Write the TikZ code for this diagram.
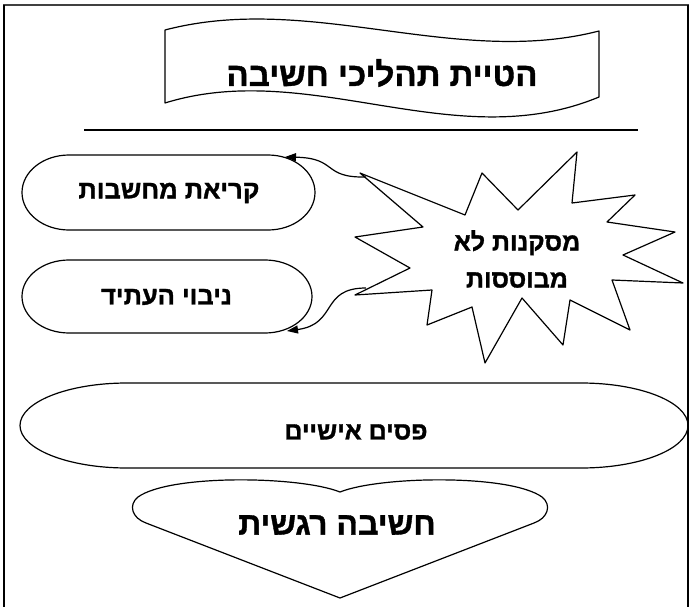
\documentclass[tikz,border=0pt]{standalone}
\usepackage{fontspec}
\newfontfamily\heb[Script=Hebrew,FakeBold=1.2]{Liberation Sans Bold}
\TeXXeTstate=1
\usetikzlibrary{arrows.meta}
\begin{document}
\begin{tikzpicture}[x=1pt,y=-1pt,
  shp/.style={draw=black,line width=1.2pt,line join=round},
  lbl/.style={inner sep=0pt,align=center},
  conn/.style={draw=black,line width=1.2pt,-{Triangle[length=11pt,width=8pt]}}]
\useasboundingbox (0,0) rectangle (690,607);
% frame
\draw[line width=2pt,black!75] (3,5.5) -- (689,5.5);
\draw[line width=2pt] (4.3,5) -- (4.3,607);
\draw[line width=2pt] (688,5) -- (688,607);
% banner
\draw[shp] (165,30) .. controls (310,-8) and (455,68) .. (599,31)
  -- (599,97) .. controls (455,157) and (310,58) .. (165,103) -- cycle;
\node[lbl,font=\heb\fontsize{33}{38}\selectfont] (title) at (382,73) {\beginR הטיית תהליכי חשיבה\endR};
% rule
\draw[line width=1.5pt] (84,130) -- (638,130);
% boxes
\draw[shp] (69,155) -- (268,155) arc[start angle=-90,end angle=90,x radius=47,y radius=37.5]
  -- (69,230) arc[start angle=90,end angle=270,x radius=47,y radius=37.5] -- cycle;
\node[lbl,font=\heb\fontsize{25.5}{30}\selectfont] (b1) at (169,193) {\beginR קריאת מחשבות\endR};
\draw[shp] (69,260) -- (265,260) arc[start angle=-90,end angle=90,x radius=47,y radius=36.5]
  -- (69,333) arc[start angle=90,end angle=270,x radius=47,y radius=36.5] -- cycle;
\node[lbl,font=\heb\fontsize{25.5}{30}\selectfont] (b2) at (166.5,297) {\beginR ניבוי העתיד\endR};
% star
\draw[shp] (360,173) -- (465,215) -- (482,173) -- (518,210) -- (577,152) -- (572,203)
  -- (635,195) -- (607,222) -- (675,232) -- (623,255) -- (683,283) -- (612,280)
  -- (630,330) -- (570,300) -- (563,345) -- (522,298) -- (485,363) -- (472,307)
  -- (427,325) -- (432,290) -- (355,295) -- (410,268) -- (355,237) -- (423,227) -- cycle;
\node[lbl,font=\heb\fontsize{25}{37}\selectfont] (star) at (517,259) {\beginR מסקנות לא\endR\\\beginR מבוססות\endR};
\coordinate (s1) at (366,177);
\coordinate (s2) at (366,288);
\coordinate (a1) at (285,157);
\coordinate (a2) at (287,331);
\draw[conn] (s1) .. controls (322,178) and (338,158) .. (a1);
\draw[conn] (s2) .. controls (320,288) and (338,324) .. (a2);
% ellipse
\draw[shp] (127,383) -- (581,383) arc[start angle=-90,end angle=90,x radius=107,y radius=42.5]
  -- (127,468) arc[start angle=90,end angle=270,x radius=107,y radius=42.5] -- cycle;
\node[lbl,font=\heb\fontsize{25}{30}\selectfont] (e1) at (356,432) {\beginR פסים אישיים\endR};
% heart
\draw[shp] (340,492) .. controls (300,476) and (170,474) .. (138,497)
  .. controls (128,505) and (132,518) .. (146,523) -- (340,598) -- (534,523)
  .. controls (548,518) and (552,505) .. (542,497) .. controls (510,474) and (380,476) .. cycle;
\node[lbl,font=\heb\fontsize{32}{38}\selectfont] (h1) at (337,525) {\beginR חשיבה רגשית\endR};
\end{tikzpicture}
\end{document}
